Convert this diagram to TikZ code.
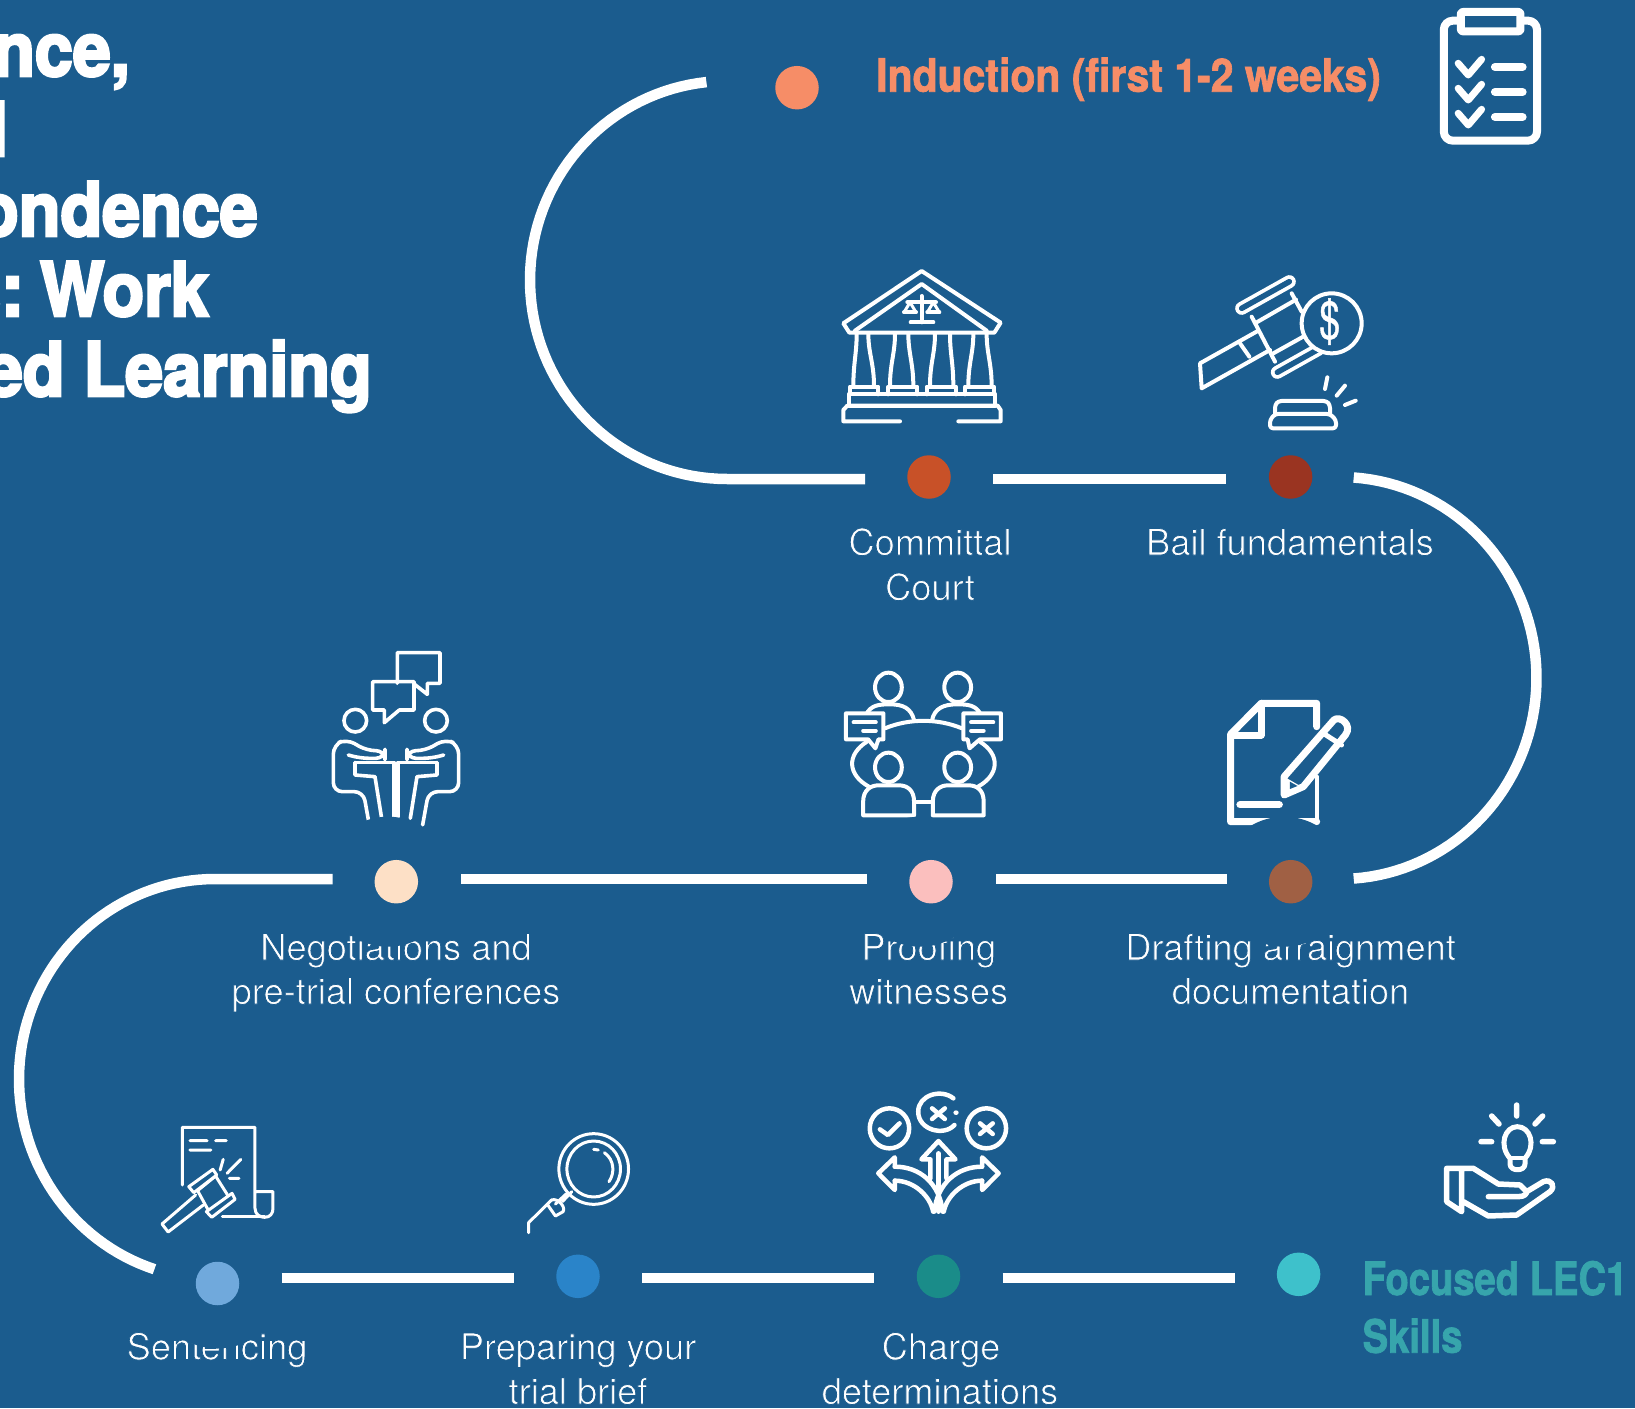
\documentclass[tikz,border=0pt]{standalone}
\usepackage{fontspec}
\setmainfont{TeX Gyre Heros}
\newfontfamily\titlef[BoldFeatures={FakeStretch=0.91,FakeBold=3.5}]{TeX Gyre Heros}
\newfontfamily\inducf[BoldFeatures={FakeStretch=0.89,FakeBold=1.5}]{TeX Gyre Heros}
\newfontfamily\focusf[BoldFeatures={FakeStretch=0.83,FakeBold=1.5}]{TeX Gyre Heros}
\newfontfamily\dollarf[FakeStretch=0.72,FakeBold=0.8]{TeX Gyre Heros}
\definecolor{bgblue}{HTML}{1B5C8E}
\definecolor{cind}{HTML}{F68D67}
\definecolor{ccom}{HTML}{C85128}
\definecolor{cbail}{HTML}{9A3421}
\definecolor{cpro}{HTML}{FBBFBE}
\definecolor{cdra}{HTML}{A06044}
\definecolor{cneg}{HTML}{FDE0C6}
\definecolor{csen}{HTML}{70A9DC}
\definecolor{cpre}{HTML}{2A84C9}
\definecolor{ccha}{HTML}{1A8C89}
\definecolor{cfoc}{HTML}{3EC1CB}
\definecolor{tfoc}{HTML}{37A5AC}
\newcommand\lt[1]{\special{pdf:code q 2 Tr 0.75 w 0.106 0.361 0.557 RG}#1\special{pdf:code Q}}
\tikzset{
  path seg/.style={draw=white,line width=10.5pt},
  icon/.style={draw=white,line width=4pt,line join=round,line cap=round},
  iconthin/.style={draw=white,line width=3pt,line join=round,line cap=round},
  dotn/.style={circle,inner sep=0pt,minimum size=43.5pt,fill=#1},
  halo/.style={fill=bgblue,draw=none},
  label/.style={text=white,font=\fontsize{36.2}{44}\selectfont,align=center,anchor=base,inner sep=0pt},
  title/.style={text=white,font=\titlef\bfseries\fontsize{75}{80}\selectfont,anchor=base east,inner sep=0pt},
  head/.style={anchor=base west,inner sep=0pt,align=left},
}
\begin{document}
\begin{tikzpicture}[x=1pt,y=-1pt]
\useasboundingbox (0,0) rectangle (1635,1408);
\clip (0,0) rectangle (1635,1408);
\fill[bgblue] (0,0) rectangle (1635,1408);

% free ends of the path segments
\coordinate (a0) at (705,81.5);
\coordinate (a1) at (865,479); \coordinate (b0) at (993,479); \coordinate (b1) at (1226,479);
\coordinate (d0) at (1226.5,879); \coordinate (d1) at (995.5,879);
\coordinate (e0) at (866.5,879); \coordinate (e1) at (460.5,879);
\coordinate (f0) at (332.5,879);
\coordinate (g0) at (281.5,1278); \coordinate (g1) at (513.5,1278);
\coordinate (h0) at (642,1278); \coordinate (h1) at (874,1278);
\coordinate (i0) at (1002.5,1278); \coordinate (i1) at (1234.5,1278);

% title
\node[title] (t1) at (130,76) {nce,};
\node[title] (t2) at (8,156) {d};
\node[title] (t3) at (258,236) {ondence};
\node[title] (t4) at (209,316) {s:\hspace{-9pt} Work};
\node[title] (t5) at (372,396) {ed Learning};

% headings
\node[head,text=cind,font=\inducf\bfseries\fontsize{46}{57.7}\selectfont] (tind) at (876,91.7) {Induction (first 1-2 weeks)};
\node[head,text=tfoc,font=\focusf\bfseries\fontsize{46}{57.7}\selectfont] (tfoc1) at (1362.5,1295) {Focused LEC1};
\node[head,text=tfoc,font=\focusf\bfseries\fontsize{46}{57.7}\selectfont] (tfoc2) at (1362.5,1352.7) {Skills};

% labels
\node[label] (l1) at (930,555) {\lt{Committal}};
\node[label] (l1b) at (930,600) {\lt{Court}};
\node[label] (l2) at (1290,555) {\lt{Bail fundamentals}};
\node[label] (l3) at (1290.5,960) {\lt{Drafting arraignment}};
\node[label] (l3b) at (1290.5,1004) {\lt{documentation}};
\node[label] (l4) at (928.7,960) {\lt{Proofing}};
\node[label] (l4b) at (928.7,1004) {\lt{witnesses}};
\node[label] (l5) at (396,960) {\lt{Negotiations and}};
\node[label] (l5b) at (396,1004) {\lt{pre-trial conferences}};
\node[label] (l6) at (217,1359.5) {\lt{Sentencing}};
\node[label] (l7) at (578,1359.5) {\lt{Preparing your}};
\node[label] (l7b) at (578,1404) {\lt{trial brief}};
\node[label] (l8) at (941,1359.5) {\lt{Charge}};
\node[label] (l8b) at (940,1404) {\lt{determinations}};

% clipboard
\begin{scope}[shift={(800,0)},x=0.5325pt,y=-0.3333pt]
 \draw[icon,line width=8pt,rounded corners=9pt] (1209,62) rectangle (1384,422);
 \draw[icon,line width=8pt,fill=bgblue,rounded corners=2pt] (1241,36) rectangle (1353,94);
 \foreach \d in {0,75,150}{
  \draw[icon,line width=7pt] (1236,190+\d) -- (1255,225+\d) -- (1280,178+\d);
  \draw[icon,line width=8pt] (1305,201+\d) -- (1357,201+\d);
 }
\end{scope}

% courthouse
\begin{scope}[shift={(830,260)},x=0.3333pt,y=-0.3333pt]
 \draw[icon] (275,33) -- (512,188) -- (493,218) -- (58,218) -- (40,190) -- cycle;
 \draw[icon] (75,212) -- (275,72) -- (470,212);
 \draw[icon] (275,108) -- (275,187) (232,127) -- (318,127);
 \draw[icon,line width=4pt] (242,187) -- (310,187);
 \draw[icon,line width=3pt] (240,127) -- (222,157) (240,127) -- (258,157) (310,127) -- (292,157) (310,127) -- (328,157);
 \draw[icon] (222,157) -- (258,157) (292,157) -- (328,157);
 \foreach \a/\b/\c/\d in {80/70/115/132,195/180/235/250,315/300/360/370,430/415/470/485}{
  \draw[icon] (\a,222) .. controls (\a,280) and (\b,310) .. (\b,378);
  \draw[icon] (\c,222) .. controls (\c,280) and (\d,310) .. (\d,378);
 }
 \foreach \a/\b in {60/145,175/262,290/378,405/492}{\draw[icon] (\a,403) -- (\a,380) -- (\b,380) -- (\b,403);}
 \draw[icon] (56,403) rectangle (496,437);
 \draw[icon] (210,484) -- (40,484) -- (40,450) -- (52,437) -- (503,437) -- (512,450) -- (512,484) -- (385,484);
\end{scope}

% gavel with coin
\begin{scope}[shift={(1190,265)},x=0.3333pt,y=-0.3333pt]
 \draw[icon] (205,197) -- (30,295) -- (35,370) -- (240,255);
 \draw[icon] (150,235) -- (178,275);
 \draw[icon] (185,155) -- (255,290) (305,85) -- (335,140);
 \draw[icon] (200,172) -- (318,104) (250,265) -- (345,212);
 \draw[draw=white,line width=13pt,line cap=round] (155,130) -- (298,50);
 \draw[draw=bgblue,line width=5.5pt,line cap=round] (155,130) -- (298,50);
 \draw[draw=white,line width=13pt,line cap=round] (262,322) -- (385,253);
 \draw[draw=bgblue,line width=5.5pt,line cap=round] (262,322) -- (385,253);
 \draw[icon,fill=bgblue] (425,175) circle (90);
 \node[text=white,font=\dollarf\fontsize{52}{52}\selectfont,inner sep=0pt] (dollar) at (419,170) {\$};
 \draw[icon] (412,337) -- (405,372) (465,362) -- (440,392) (497,407) -- (465,420);
 \draw[icon,rounded corners=3pt] (255,447) -- (255,420) -- (265,408) -- (410,408) -- (420,420) -- (420,447);
 \draw[icon,rounded corners=3pt] (240,490) -- (240,465) -- (255,447) -- (420,447) -- (438,465) -- (438,490) -- cycle;
\end{scope}

% negotiations
\begin{scope}[shift={(200,630)},x=0.3333pt,y=-0.3333pt]
 \draw[iconthin,line width=3.6pt] (592,160) -- (592,68) -- (720,68) -- (720,160) -- (682,160) -- (682,193) -- (640,160);
 \draw[iconthin,line width=3.6pt] (518,155) -- (642,155) -- (642,240) -- (598,240) -- (553,278) -- (553,240) -- (518,240) -- cycle;
 \draw[iconthin,line width=3.6pt] (466,272) circle (34) (708,272) circle (34);
 \foreach \m/\s in {0/1,1176/-1}{
 \begin{scope}[shift={(\m,0)},xscale=\s]
  \draw[iconthin,line width=3.6pt,rounded corners=9pt] (508,585) -- (490,485) -- (400,485) -- (400,345) -- (440,327) -- (500,362) -- (555,362) -- (555,385) -- (480,385) -- (445,375);
  \draw[iconthin,line width=3.6pt] (465,397) -- (465,435) -- (525,440) -- (545,565);
  \draw[iconthin,line width=3.6pt] (465,397) -- (582,397) -- (582,560);
 \end{scope}}
\end{scope}

% round table meeting and document
\begin{scope}[shift={(800,640)},x=0.3827pt,y=-0.3333pt]
 \draw[icon] (231,142) ellipse (35 and 44) (412,142) ellipse (35 and 44);
 \draw[icon] (172,225) .. controls (185,195) and (205,193) .. (235,193) .. controls (270,193) and (290,205) .. (298,240);
 \draw[icon] (345,240) .. controls (352,205) and (375,193) .. (410,193) .. controls (440,193) and (460,195) .. (473,225);
 \draw[icon] (222,265) .. controls (285,235) and (360,235) .. (423,265);
 \draw[icon] (175,305) .. controls (120,345) and (125,405) .. (180,440);
 \draw[icon] (470,305) .. controls (525,345) and (520,405) .. (465,440);
 \draw[icon] (300,485) -- (345,485);
 \draw[icon] (231,382) ellipse (35 and 44) (412,382) ellipse (35 and 44);
 \foreach \o in {0,182}{
  \draw[icon] (165+\o,526) -- (165+\o,485) .. controls (165+\o,450) and (185+\o,436) .. (205+\o,436) -- (258+\o,436) .. controls (280+\o,436) and (298+\o,450) .. (298+\o,485) -- (298+\o,526) -- cycle;
 }
 \draw[icon,fill=bgblue] (120,220) -- (218,220) -- (218,298) -- (205,298) -- (197,325) -- (178,298) -- (120,298) -- cycle;
 \draw[icon,fill=bgblue] (427,220) -- (525,220) -- (525,298) -- (470,298) -- (443,325) -- (438,298) -- (427,298) -- cycle;
 \draw[icon] (140,247) -- (198,247) (165,272) -- (198,272) (447,247) -- (505,247) (447,272) -- (480,272);
% document
 \draw[icon,line width=7pt] (1350,260) -- (1350,190) -- (1205,190) -- (1125,283) -- (1125,545) -- (1350,545);
 \draw[icon,line width=4pt] (1350,410) -- (1350,545);
 \draw[icon,line width=7pt] (1205,190) -- (1205,285) -- (1125,285);
 \draw[icon,line width=7.5pt] (1150,494) -- (1252,494);
 \draw[icon,line width=7pt] (1265,410) -- (1395,240) .. controls (1410,225) and (1445,255) .. (1425,285) -- (1315,440) -- (1265,465) -- cycle;
 \draw[icon,line width=5pt] (1370,282) -- (1415,315);
 \fill[white] (1265,410) -- (1310,440) -- (1265,465) -- cycle;
 \fill[bgblue] (1280,425) -- (1300,438) -- (1280,447) -- cycle;
\end{scope}

% sentencing and magnifier
\begin{scope}[shift={(100,1070)},x=0.3827pt,y=-0.3333pt]
 \draw[iconthin] (215,345) -- (215,172) -- (405,172) -- (405,415) .. controls (405,435) and (420,442) .. (430,442) .. controls (445,442) and (452,430) .. (452,415) -- (452,365) -- (407,365);
 \draw[iconthin] (320,440) -- (430,440);
 \draw[iconthin] (235,212) -- (280,212) (302,212) -- (330,212) (235,240) -- (290,240) (322,268) -- (314,300) (368,268) -- (332,310) (338,325) -- (363,325);
 \draw[iconthin] (250,375) -- (162,462) -- (178,486) -- (270,405);
 \draw[iconthin,fill=bgblue] (255,362) -- (302,318) -- (335,378) -- (285,425) -- cycle;
 \draw[iconthin,fill=bgblue] (232,350) -- (295,298) -- (305,315) -- (245,368) -- cycle;
 \draw[iconthin,fill=bgblue] (278,425) -- (345,370) -- (353,388) -- (292,442) -- cycle;
 \draw[iconthin] (1290,297) ellipse (91 and 106) (1290,297) ellipse (70 and 84);
 \draw[iconthin] (1318,248) .. controls (1345,270) and (1345,310) .. (1330,335) (1290,238) -- (1302,240);
 \draw[iconthin] (1233,365) -- (1208,395) (1218,372) -- (1190,402);
 \draw[iconthin] (1180,390) -- (1120,458) -- (1120,488);
 \draw[iconthin] (1180,390) .. controls (1195,383) and (1218,410) .. (1210,425) -- (1190,438) -- (1170,405);
\end{scope}

% charge determinations
\begin{scope}[shift={(800,1070)},x=0.5325pt,y=-0.3333pt]
 \draw[icon,line width=4.5pt] (168,175) ellipse (37 and 60) (350,175) ellipse (37 and 60);
 \draw[icon,line width=4.5pt] (150,178) -- (165,195) -- (187,160);
 \draw[icon,line width=4.5pt] (338,160) -- (362,192) (362,160) -- (338,192);
 \draw[icon,line width=4.5pt] (288,85) .. controls (265,55) and (222,75) .. (222,125) .. controls (222,180) and (270,200) .. (290,165);
 \fill[white] (293,128) ellipse (5 and 7);
 \draw[icon,line width=4.5pt] (248,115) -- (272,147) (272,115) -- (248,147);
 \draw[icon,line width=4.5pt] (245,325) -- (245,268) -- (228,268) -- (260,213) -- (292,268) -- (275,268) -- (275,325);
 \draw[icon,line width=4.5pt] (260,250) -- (260,425);
 \foreach \m/\s in {0/1,520/-1}{
 \begin{scope}[shift={(\m,0)},xscale=\s]
  \draw[icon,line width=4.5pt] (178,290) -- (178,262) -- (147,310) -- (178,360) -- (178,332);
  \draw[icon,line width=4.5pt] (178,290) .. controls (225,290) and (262,340) .. (268,425);
  \draw[icon,line width=4.5pt] (178,332) .. controls (215,332) and (245,380) .. (250,425);
 \end{scope}}
\end{scope}

% hand with bulb
\begin{scope}[shift={(1430,1090)},x=0.3333pt,y=-0.3333pt]
 \draw[icon,line width=5.5pt] (260,45) -- (260,78) (185,78) -- (207,102) (338,78) -- (315,102) (153,155) -- (185,155) (337,155) -- (370,155);
 \draw[icon,line width=5pt] (240,205) .. controls (205,165) and (225,110) .. (262,110) .. controls (300,110) and (320,165) .. (285,205) -- (285,222) .. controls (285,245) and (240,245) .. (240,222) -- cycle;
 \draw[icon,line width=4pt] (243,205) -- (282,205);
 \draw[icon,line width=5.5pt] (95,240) -- (95,365) -- (50,335) -- (50,235) -- (130,235) -- (205,282) -- (270,285) -- (290,305) -- (340,275) .. controls (365,265) and (378,290) .. (360,305) -- (260,375) -- (175,378) -- (100,335);
 \draw[icon,line width=5.5pt] (175,320) -- (265,320) .. controls (285,320) and (290,310) .. (290,305);
\end{scope}

% halos that mask what lies under them
\fill[halo] (1284,881.7) circle (65);
\fill[halo] (920,881.7) circle (65);
\fill[halo] (388,881.7) circle (65);
\fill[halo] (217.5,1283.5) circle (65);

% the line of the journey
\draw[path seg] (a0) plot[domain=264:90,samples=70] ({727+197*cos(\x)},{280+199*sin(\x)}) -- (a1);
\draw[path seg] (b0) -- (b1);
\draw[path seg] plot[domain=-86:86,samples=70] ({1340+196.5*cos(\x)},{678+201*sin(\x)});
\draw[path seg] (d0) -- (d1);
\draw[path seg] (e0) -- (e1);
\draw[path seg] (f0) -- (215,879) plot[domain=270:108,samples=70] ({215+196*cos(\x)},{1079+200*sin(\x)});
\draw[path seg] (g0) -- (g1);
\draw[path seg] (h0) -- (h1);
\draw[path seg] (i0) -- (i1);

% stops
\node[dotn=cind] (d1x) at (797,87.7) {};
\node[dotn=ccom] (d2x) at (929,477) {};
\node[dotn=cbail] (d3x) at (1290.6,477) {};
\node[dotn=cdra] (d4x) at (1290.7,881.7) {};
\node[dotn=cpro] (d5x) at (931,881.7) {};
\node[dotn=cneg] (d6x) at (396.3,881.7) {};
\node[dotn=csen] (d7x) at (217.5,1283.5) {};
\node[dotn=cpre] (d8x) at (578,1276.3) {};
\node[dotn=ccha] (d9x) at (938.5,1276.3) {};
\node[dotn=cfoc] (d10x) at (1298.6,1274.3) {};
\end{tikzpicture}
\end{document}
